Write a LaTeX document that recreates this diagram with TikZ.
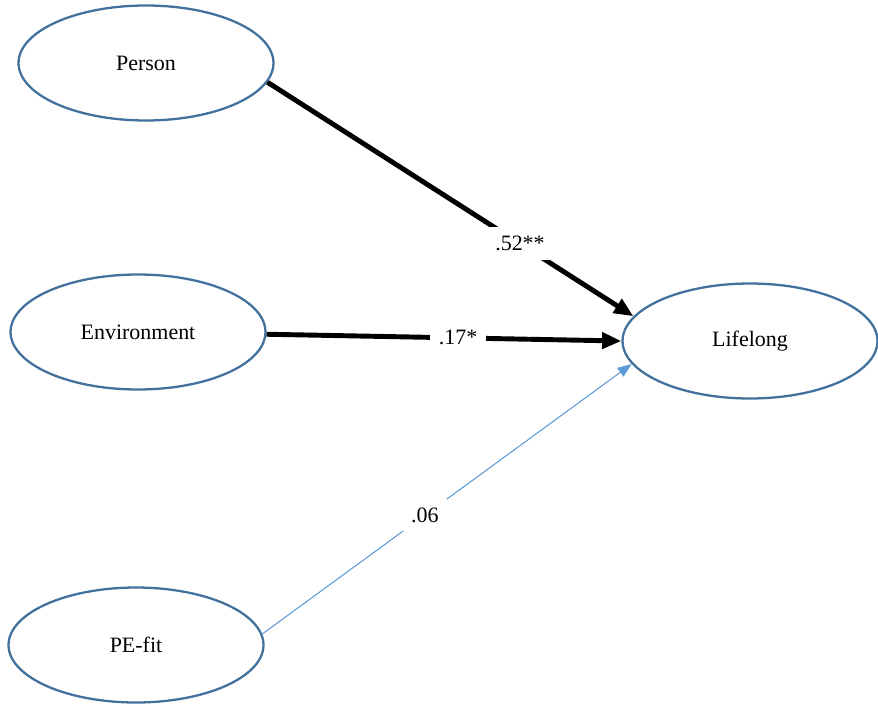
\documentclass[tikz,border=0pt]{standalone}
\usepackage{fontspec}
\setmainfont{Liberation Serif}
\usetikzlibrary{shapes.geometric, arrows.meta}
\definecolor{ovalblue}{RGB}{65,113,156}
\definecolor{pathblue}{RGB}{91,155,213}
\tikzset{
    construct/.style={ellipse, draw=ovalblue, line width=1.3pt, minimum width=5.1cm, minimum height=2.3cm, font=\fontsize{12.5}{14}\selectfont},
    strongpath/.style={line width=2.8pt, -{Triangle[length=11pt, width=9pt]}},
    weakpath/.style={line width=0.6pt, draw=pathblue, -{Triangle[length=8pt, width=6pt, fill=pathblue]}},
    coef/.style={fill=white, inner sep=5pt, font=\fontsize{12.5}{14}\selectfont}
}

\begin{document}
\begin{tikzpicture}[x=0.02cm, y=-0.02cm]
    \useasboundingbox (0,0) rectangle (878,706);

    % Draw the constructs
    \node[construct] (person) at (146,63) {Person};
    \node[construct] (environment) at (138,332) {Environment};
    \node[construct] (pefit) at (136,645) {PE-fit};
    \node[construct] (lifelong) at (750,341) {Lifelong};

    % Draw the paths with coefficients
    \draw[strongpath] (person.-9) -- node[coef, pos=0.69] {.52**} (lifelong.168);
    \draw[strongpath] (environment.-1) -- node[coef, pos=0.54] {.17*} (lifelong.west);
    \draw[weakpath] (pefit.5) -- node[coef, pos=0.44] {.06} (lifelong.191);
\end{tikzpicture}
\end{document}
